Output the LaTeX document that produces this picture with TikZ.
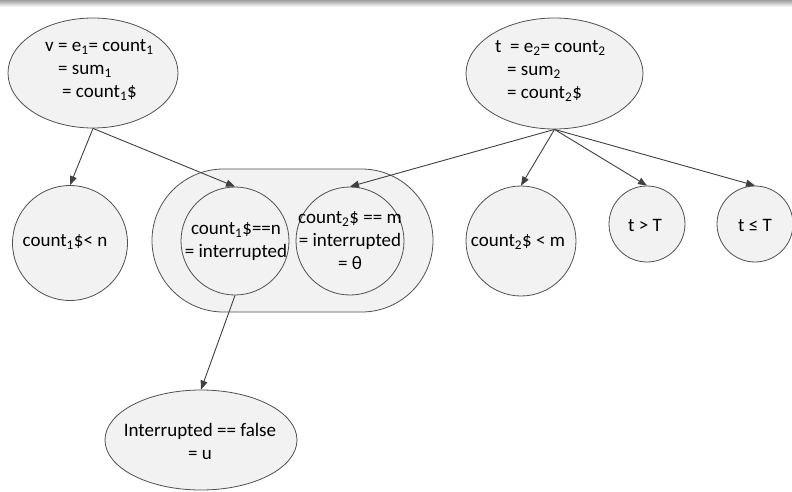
\documentclass[tikz,border=0pt]{standalone}
\usepackage{fontspec}
\setmainfont{Carlito}
\usetikzlibrary{shapes.geometric,shapes.misc,arrows.meta}
\definecolor{shapefill}{RGB}{242,242,242}
\definecolor{edgecol}{RGB}{80,80,80}
\definecolor{arrcol}{RGB}{64,64,64}
\tikzset{
  shp/.style={draw=edgecol, line width=0.8pt, fill=shapefill, inner sep=0pt},
  ell/.style={shp, ellipse},
  circ/.style={shp, circle},
  txt/.style={inner sep=0pt, font=\fontsize{19}{23}\selectfont, text=black},
  arr/.style={draw=arrcol, line width=0.9pt, -{Triangle[length=9pt,width=7pt]}}
}
\begin{document}
\begin{tikzpicture}[x=1pt,y=-1pt]
\useasboundingbox (0,0) rectangle (792,491);
\shade[top color=gray!75, bottom color=white, draw=none] (0,0) rectangle (792,7);
% group
\node[shp, rounded rectangle, minimum width=281pt, minimum height=143pt] (grp) at (292.5,240.5) {};
% shapes
\node[ell, minimum width=170pt, minimum height=110pt] (v) at (93,73) {};
\node[ell, minimum width=177pt, minimum height=111pt] (t) at (554.5,73.5) {};
\node[circ, minimum size=115pt] (c1) at (70,243) {};
\node[circ, minimum size=108pt] (c2) at (235,241) {};
\node[circ, minimum size=108pt] (c3) at (350,241) {};
\node[circ, minimum size=110pt] (c4) at (521,241) {};
\node[circ, minimum size=76pt] (gt) at (647,224) {};
\node[circ, minimum size=76pt] (le) at (755,224) {};
\node[ell, minimum width=192pt, minimum height=100pt] (u) at (201,440) {};
% texts
\node[txt, align=left, anchor=west] (vt) at (45,70) {v = e\textsubscript{1}= count\textsubscript{1}\\\hspace*{13pt}= sum\textsubscript{1}\\\hspace*{17pt}= count\textsubscript{1}\$};
\node[txt, align=left, anchor=west] (tt) at (495,71) {t\ \ = e\textsubscript{2}= count\textsubscript{2}\\\hspace*{12pt}= sum\textsubscript{2}\\\hspace*{12pt}= count\textsubscript{2}\$};
\node[txt] (c1t) at (65,242) {count\textsubscript{1}\$< n};
\node[txt, align=center] (c2t) at (236,242) {count\textsubscript{1}\$==n\\= interrupted};
\node[txt, align=center] (c3t) at (350,241) {count\textsubscript{2}\$ == m\\= interrupted\\= θ};
\node[txt] (c4t) at (518,242) {count\textsubscript{2}\$ < m};
\node[txt] (gtt) at (645,225) {t > T};
\node[txt] (let) at (755,225) {t ≤ T};
\node[txt, align=center] (ut) at (200,441) {Interrupted == false\\= u};
% connectors
\draw[arr] (v.south) -- (c1.north);
\draw[arr] (v.south) -- (c2.north);
\draw[arr] (t.south) -- (c3.north);
\draw[arr] (t.south) -- (c4.north);
\draw[arr] (t.south) -- (gt.north);
\draw[arr] (t.south) -- (le.north);
\draw[arr] (c2.south) -- (u.north);
\end{tikzpicture}
\end{document}
